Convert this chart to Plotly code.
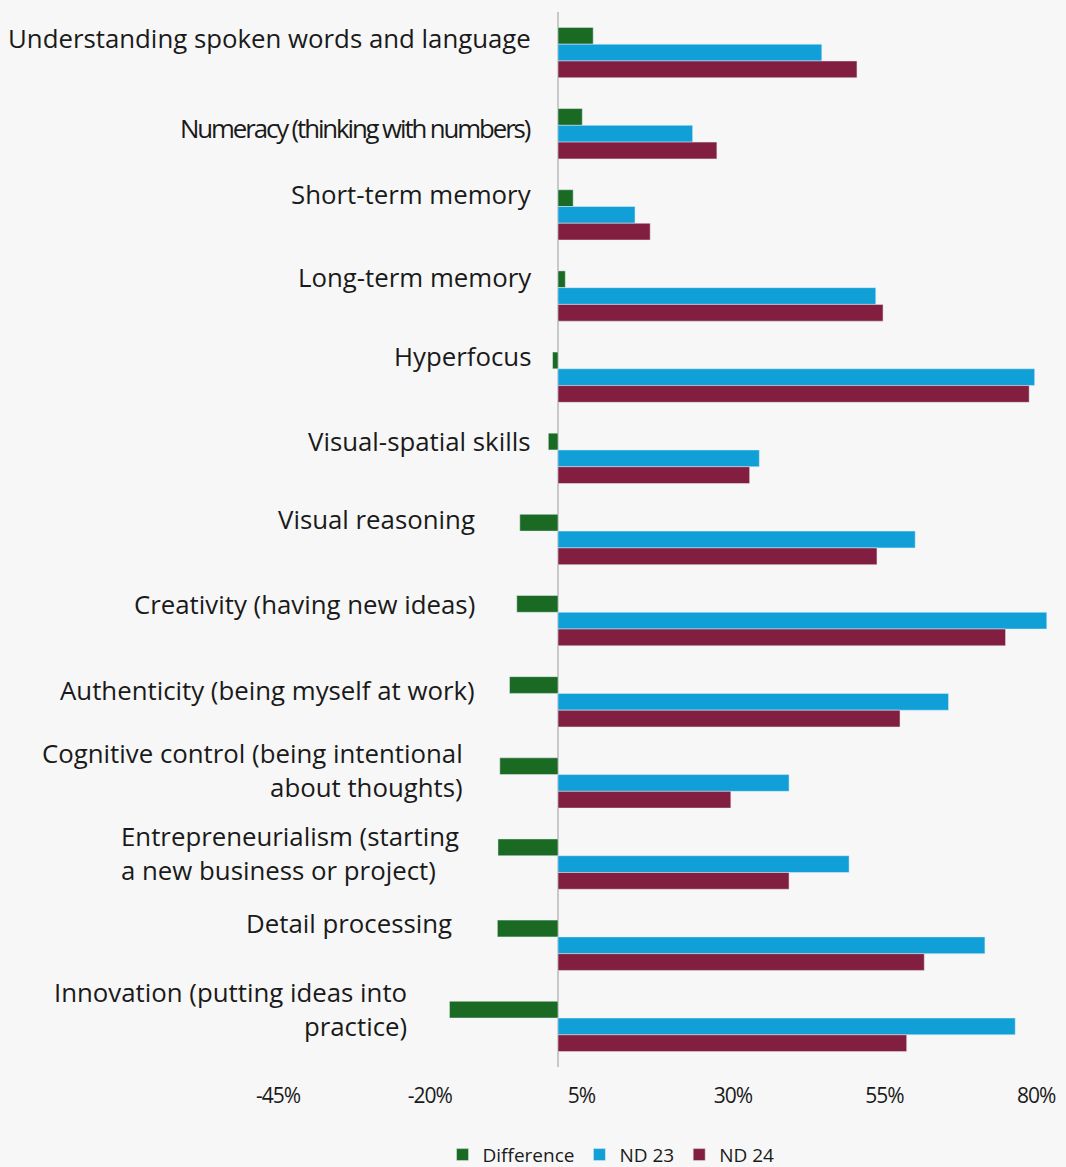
import plotly.graph_objects as go

# カテゴリ（上から順）
categories = [
    "Understanding spoken words and language",
    "Numeracy (thinking with numbers)",
    "Short-term memory",
    "Long-term memory",
    "Hyperfocus",
    "Visual-spatial skills",
    "Visual reasoning",
    "Creativity (having new ideas)",
    "Authenticity (being myself at work)",
    "Cognitive control (being intentional<br>about thoughts)",
    "Entrepreneurialism (starting<br>a new business or project)",
    "Detail processing",
    "Innovation (putting ideas into<br>practice)",
]

nd23 = [43.5, 22.2, 12.7, 52.4, 78.6, 33.2, 58.9, 80.6, 64.4, 38.1, 48.0, 70.4, 75.4]
nd24 = [49.3, 26.2, 15.2, 53.6, 77.7, 31.6, 52.6, 73.8, 56.4, 28.5, 38.1, 60.4, 57.5]
difference = [5.8, 4.0, 2.5, 1.2, -0.9, -1.6, -6.3, -6.8, -8.0, -9.6, -9.9, -10.0, -17.9]

tick_vals = [-45, -20, 5, 30, 55, 80]
tick_text = ["-45%", "-20%", "5%", "30%", "55%", "80%"]

# ラベル配置（x: 軸単位 / yshift: px）
label_x = [-4.1, -4.1, -4.1, -4.1, -4.1, -4.1, -13.3, -13.3, -13.3, -15.3, -72.4, -17.1, -24.5]
label_anchor = ["right"] * 10 + ["left"] + ["right"] * 2
label_shift = [15, 6, 21, 19, 21, 17, 21, 17, 12, 13, 11, 22, 17]

ids = list(range(len(categories)))

fig = go.Figure()
fig.add_trace(go.Bar(y=ids, x=difference, orientation='h', name='Difference',
                     marker_color='#1b6a24'))
fig.add_trace(go.Bar(y=ids, x=nd23, orientation='h', name='ND 23',
                     marker_color='#10a0d7'))
fig.add_trace(go.Bar(y=ids, x=nd24, orientation='h', name='ND 24',
                     marker_color='#821f41'))

for i, cat in enumerate(categories):
    txt = cat
    if i == 1:
        txt = "<span style='letter-spacing:-2.1px'>" + cat + "</span>"
    fig.add_annotation(
        x=label_x[i], y=i, xref='x', yref='y', text=txt, showarrow=False,
        xanchor=label_anchor[i], yanchor='middle', align=label_anchor[i],
        yshift=label_shift[i],
        font=dict(family="Open Sans", size=25.8, color='#1a1a1a'),
    )

fig.update_layout(
    width=1066, height=1167,
    margin=dict(l=0, r=0, t=12, b=100, autoexpand=False),
    paper_bgcolor='#f7f7f7', plot_bgcolor='#f7f7f7',
    barmode='group', bargap=0.38, bargroupgap=0,
    showlegend=True,
    legend=dict(orientation='h', x=0.5732, y=0.0105, xref='paper', yref='container',
                xanchor='center', yanchor='middle',
                font=dict(family="Open Sans", size=19, color='#1a1a1a'),
                itemwidth=30, traceorder='normal'),
    xaxis=dict(range=[-92.02, 83.77], tickvals=tick_vals,
               ticktext=["<span style='letter-spacing:-1px'>" + t + "</span>" for t in tick_text],
               showgrid=False, zeroline=True, zerolinecolor='#c8c8c8', zerolinewidth=1.5,
               showline=False, ticks='', ticklabelstandoff=14, ticklabelshift=-7,
               automargin=False,
               tickfont=dict(family="Open Sans", size=21, color='#1a1a1a')),
    yaxis=dict(range=[12.5, -0.5], showticklabels=False, showgrid=False,
               zeroline=False, showline=False, ticks='', automargin=False),
)

fig.write_html("out.html", config={'displayModeBar': False},
               post_script="document.body.style.margin='0';document.body.style.background='#f7f7f7';")
